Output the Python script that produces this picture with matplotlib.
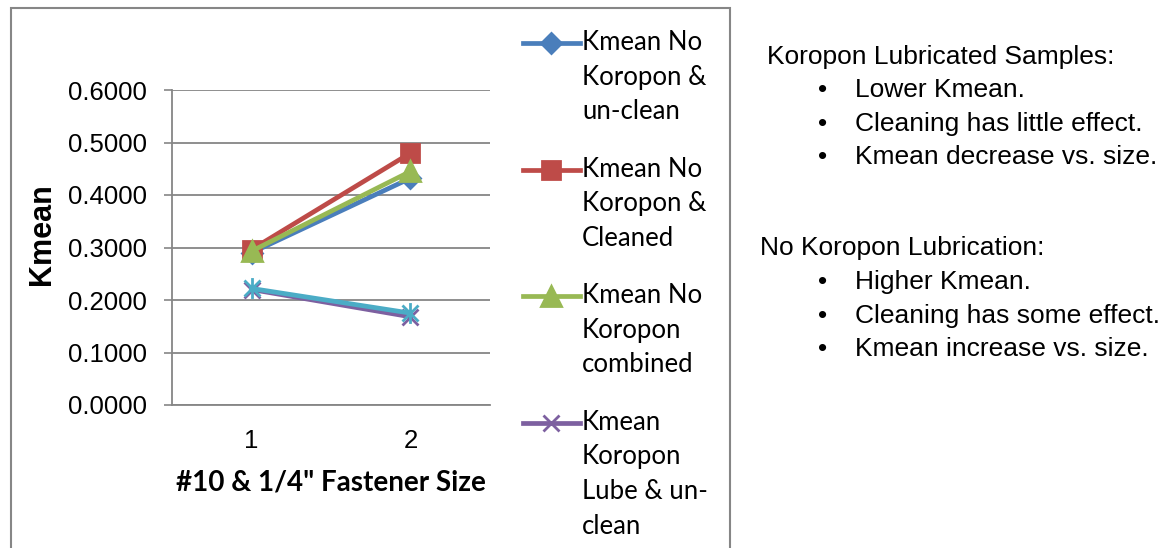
import numpy as np
import matplotlib
matplotlib.use('Agg')
import matplotlib.pyplot as plt
from matplotlib.path import Path
from matplotlib.patches import Rectangle
from matplotlib.legend_handler import HandlerLine2D

# data
sizes = [1, 2]
no_kor_unclean = [0.290, 0.432]
no_kor_cleaned = [0.296, 0.480]
no_kor_combined = [0.293, 0.445]
kor_unclean = [0.220, 0.168]
kor_cleaned = [0.222, 0.175]

labels = ['Kmean No\nKoropon &\nun-clean',
          'Kmean No\nKoropon &\nCleaned',
          'Kmean No\nKoropon\ncombined',
          'Kmean\nKoropon\nLube & un-\nclean',
          'Kmean\nKoropon\nLube &\nCleaned']
yticks = [0.0, 0.1, 0.2, 0.3, 0.4, 0.5, 0.6]

notes_top = ['Lower Kmean.', 'Cleaning has little effect.', 'Kmean decrease vs. size.']
notes_bottom = ['Higher Kmean.', 'Cleaning has some effect.', 'Kmean increase vs. size.']

# Excel style star marker (x with vertical bar)
star = Path([(-1, -1), (1, 1), (-1, 1), (1, -1), (0, -1.3), (0, 1.3)],
            [Path.MOVETO, Path.LINETO, Path.MOVETO, Path.LINETO, Path.MOVETO, Path.LINETO])

grey = '#868686'
sans = ['Liberation Sans', 'DejaVu Sans']
calib = ['Lato', 'DejaVu Sans']

fig = plt.figure(figsize=(11.65, 5.48), dpi=100)
ax = fig.add_axes([172 / 1165, 1 - 405 / 548, (490 - 172) / 1165, (405 - 90) / 548])

series = [no_kor_unclean, no_kor_cleaned, no_kor_combined, kor_unclean, kor_cleaned]
colors = ['#4A7EBB', '#BE4B48', '#98B954', '#7D60A0', '#4BACC6']
markers = ['D', 's', '^', 'x', star]
msizes = [10, 13, 14, 12, 15]

lines = []
for vals, c, m, ms, lab in zip(series, colors, markers, msizes, labels):
    ln, = ax.plot(sizes, vals, color=c, lw=3.4, marker=m, ms=ms,
                  mfc=c, mec=c, mew=2, label=lab)
    lines.append(ln)

ax.set_xlim(0.5, 2.5)
ax.set_ylim(0, 0.6)
ax.set_xticks(sizes)
ax.set_xticklabels(['1', '2'], family=sans, fontsize=18.5)
ax.set_yticks(yticks)
ax.set_yticklabels(['%.4f' % v for v in yticks], family=sans, fontsize=18.5)
ax.tick_params(axis='x', length=0, pad=17)
ax.tick_params(axis='y', length=6, width=1.2, color=grey, pad=12)
ax.yaxis.grid(True, color=grey, lw=1.3)
ax.set_axisbelow(True)
for s in ['top', 'right']:
    ax.spines[s].set_visible(False)
for s in ['left', 'bottom']:
    ax.spines[s].set_color(grey)
    ax.spines[s].set_linewidth(1.3)

ax.set_ylabel('Kmean', family=sans, fontsize=22, fontweight='bold', labelpad=8)
ax.yaxis.label.set_y(0.544)
ax.set_xlabel('#10 & 1/4" Fastener Size', family=calib, fontsize=20,
              fontweight='bold', labelpad=12)

# legend: handle sits next to the first line of each label
leg_fs = 18.5
leg_ls = 1.48
line_pt = 33.6 * 72 / 100


class FirstLineHandler(HandlerLine2D):
    def create_artists(self, legend, orig_handle, xdescent, ydescent,
                       width, height, fontsize, trans):
        arts = super().create_artists(legend, orig_handle, xdescent, ydescent,
                                      width, height, fontsize, trans)
        n = orig_handle.get_label().count('\n')
        shift = n / 2 * line_pt + 1
        for a in arts:
            a.set_ydata(np.asarray(a.get_ydata()) + shift)
        return arts


# the fifth entry falls below the cropped chart frame, so only four show
leg = ax.legend(handles=lines[:4], loc='upper left',
                bbox_to_anchor=(523 / 1165, 1 - 30 / 548),
                bbox_transform=fig.transFigure, frameon=False,
                prop={'family': calib, 'size': leg_fs}, numpoints=1,
                handlelength=2.2, handletextpad=0.1, labelspacing=1.26,
                borderpad=0, borderaxespad=0,
                handler_map={matplotlib.lines.Line2D: FirstLineHandler()})
for t in leg.get_texts():
    t.set_linespacing(leg_ls)

# chart border (cut at bottom)
fig.patches.append(Rectangle((11 / 1165, -0.1), (730 - 11) / 1165, 1.1 - 8 / 548,
                             transform=fig.transFigure, fill=False,
                             edgecolor=grey, lw=1.5))

# notes on the right
fig.text(767 / 1165, 1 - 57 / 548, 'Koropon Lubricated Samples:', family=sans,
         fontsize=19, va='center')
for i, s in enumerate(notes_top):
    y = 1 - (90 + i * 33.5) / 548
    fig.text(818 / 1165, y, '\u2022', family=sans, fontsize=19, va='center')
    fig.text(855 / 1165, y, s, family=sans, fontsize=19, va='center')

fig.text(760 / 1165, 1 - 248 / 548, 'No Koropon Lubrication:', family=sans,
         fontsize=19, va='center')
for i, s in enumerate(notes_bottom):
    y = 1 - (282 + i * 33.5) / 548
    fig.text(818 / 1165, y, '\u2022', family=sans, fontsize=19, va='center')
    fig.text(855 / 1165, y, s, family=sans, fontsize=19, va='center')

fig.savefig('out.png', dpi=100)
